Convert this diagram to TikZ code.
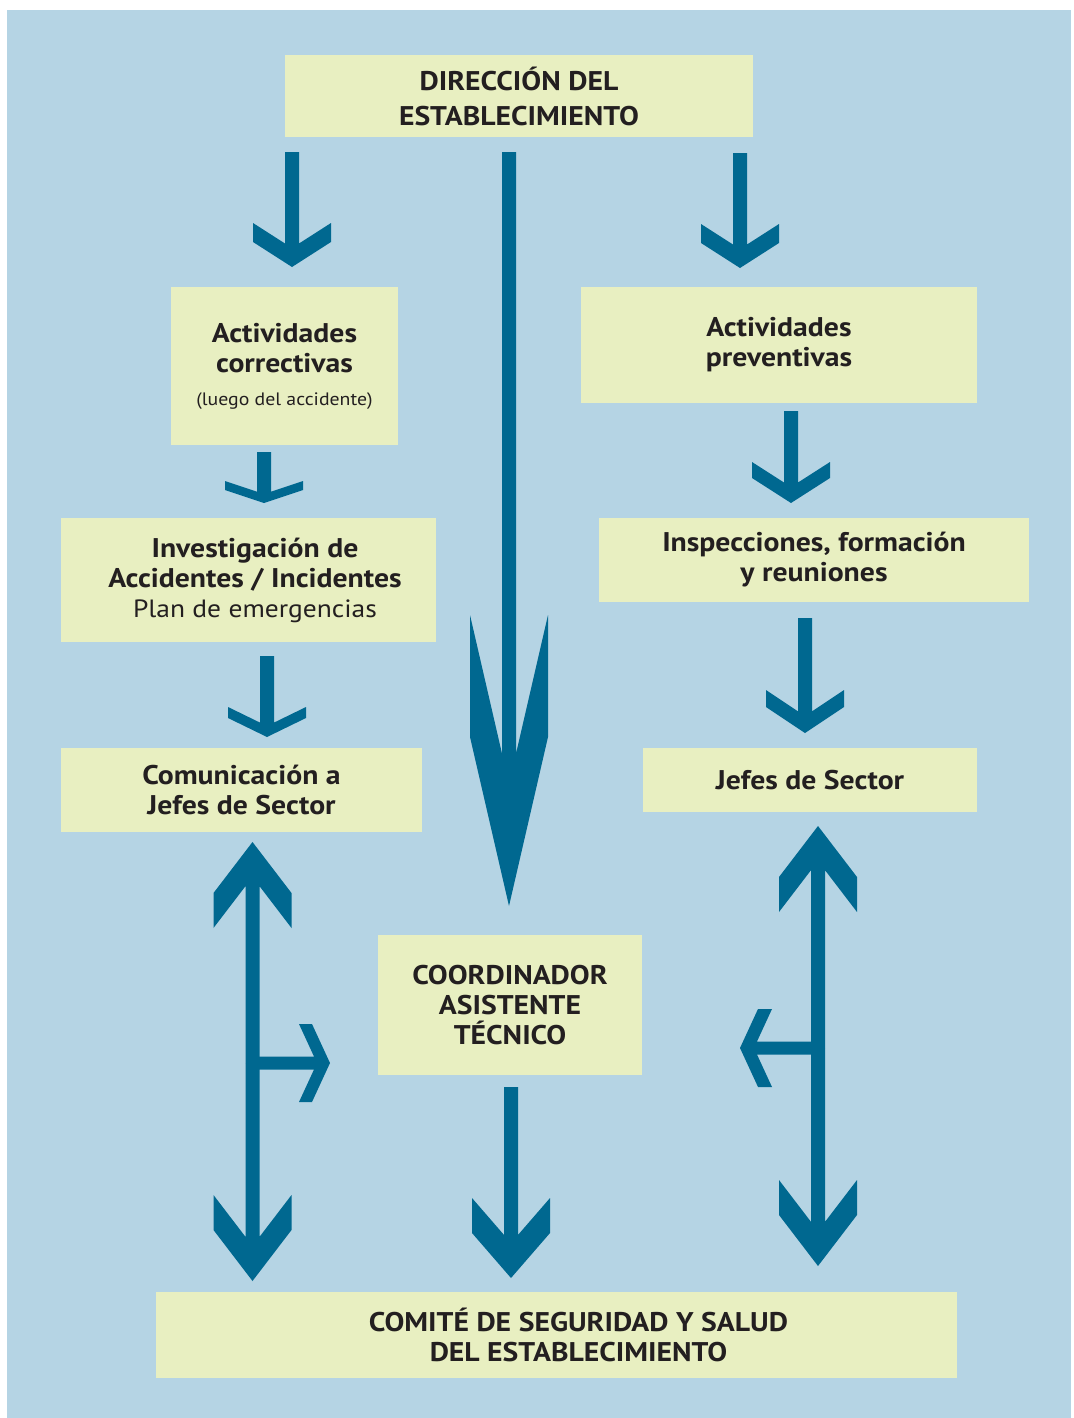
\documentclass[tikz,border=0pt]{standalone}
\usepackage{fontspec}
\setmainfont[FakeStretch=1.1]{PT Sans}
\usetikzlibrary{calc}
\definecolor{fondo}{HTML}{B5D4E4}
\definecolor{amarillo}{HTML}{E8EFC1}
\definecolor{azul}{HTML}{006890}
\definecolor{tinta}{HTML}{231F20}
% Flecha vertical : origen, punta, semi-ancho cuerpo, semi-ancho punta, borde, profundidad
\newcommand\flechaV[6]{%
\fill[flecha] let \p1=(#1), \p2=(#2), \n1={sign(\y2-\y1)}, \n2={#6+#5-(#4-#3)*#6/#4} in
({\x2-#3pt},{\y1}) -- ({\x2-#3pt},{\y2-(\n1)*(\n2)*1pt}) -- ({\x2-#4pt},{\y2-(\n1)*(#5+#6)*1pt})
-- ({\x2-#4pt},{\y2-(\n1)*#6*1pt}) -- (\x2,\y2) -- ({\x2+#4pt},{\y2-(\n1)*#6*1pt})
-- ({\x2+#4pt},{\y2-(\n1)*(#5+#6)*1pt}) -- ({\x2+#3pt},{\y2-(\n1)*(\n2)*1pt}) -- ({\x2+#3pt},{\y1}) -- cycle;}
% Flecha horizontal : mismos argumentos
\newcommand\flechaH[6]{%
\fill[flecha] let \p1=(#1), \p2=(#2), \n1={sign(\x2-\x1)}, \n2={#6+#5-(#4-#3)*#6/#4} in
({\x1},{\y2+#3pt}) -- ({\x2-(\n1)*(\n2)*1pt},{\y2+#3pt}) -- ({\x2-(\n1)*(#5+#6)*1pt},{\y2+#4pt})
-- ({\x2-(\n1)*#6*1pt},{\y2+#4pt}) -- (\x2,\y2) -- ({\x2-(\n1)*#6*1pt},{\y2-#4pt})
-- ({\x2-(\n1)*(#5+#6)*1pt},{\y2-#4pt}) -- ({\x2-(\n1)*(\n2)*1pt},{\y2-#3pt}) -- ({\x1},{\y2-#3pt}) -- cycle;}
\begin{document}
\begin{tikzpicture}[x=1pt,y=-1pt]
% Estilos
\tikzstyle{flecha}=[fill=azul]
\tikzstyle{bloque}=[fill=amarillo,inner sep=0pt,align=center,text=tinta,font=\fontsize{27}{30}\selectfont\bfseries]
\tikzstyle{titulo}=[bloque,font=\fontsize{27}{35}\selectfont\bfseries]
% Dimensiones
\def\Cuerpo{7}
\def\Punta{39}
% Fondo
\useasboundingbox (0,0) rectangle (1073,1418);
\fill[fondo] (7,10) rectangle (1071,1418);
% Cajas
\node[titulo,minimum width=468,minimum height=82] (dir) at (519,96) {DIRECCIÓN DEL\\ESTABLECIMIENTO};
\node[bloque,minimum width=227,minimum height=158] (corr) at (284.5,366) {Actividades\\correctivas\\[3pt]{\fontsize{18}{22}\selectfont\mdseries (luego del accidente)}};
\node[bloque,minimum width=396,minimum height=116] (prev) at (779,345) {Actividades\\preventivas};
\node[bloque,minimum width=375,minimum height=124] (inv) at (248.5,580) {\hspace*{13pt}Investigación de\\\hspace*{13pt}Accidentes / Incidentes\\\hspace*{13pt}{\fontsize{25}{30}\selectfont\mdseries Plan de emergencias}};
\node[bloque,minimum width=430,minimum height=84] (insp) at (814,560) {Inspecciones, formación\\y reuniones};
\node[bloque,minimum width=361,minimum height=84] (com) at (241.5,790) {Comunicación a\\Jefes de Sector};
\node[bloque,minimum width=334,minimum height=64] (jef) at (810,780) {Jefes de Sector};
\node[bloque,minimum width=264,minimum height=140] (coord) at (510,1005) {COORDINADOR\\ASISTENTE\\TÉCNICO};
\node[bloque,minimum width=801,minimum height=86] (comite) at (556.5,1335) {\hspace*{44pt}COMITÉ DE SEGURIDAD Y SALUD\\\hspace*{44pt}DEL ESTABLECIMIENTO};
% Extremos de las flechas
\coordinate (a1) at (292,152);   \coordinate (b1) at (292,267);
\coordinate (a2) at (509,152);   \coordinate (b2) at (509,906);
\coordinate (a3) at (740,153);   \coordinate (b3) at (740,268);
\coordinate (a4) at (264,452);   \coordinate (b4) at (264,503);
\coordinate (a5) at (791,411);   \coordinate (b5) at (791,503);
\coordinate (a6) at (267,656);   \coordinate (b6) at (267,737);
\coordinate (a7) at (805,618);   \coordinate (b7) at (805,733);
\coordinate (a8) at (511,1087);  \coordinate (b8) at (511,1278);
\coordinate (gm) at (252.5,1063); \coordinate (gs) at (252.5,842); \coordinate (gi) at (252.5,1281); \coordinate (gd) at (330,1063);
\coordinate (dm) at (818,1048);  \coordinate (ds) at (818,826);   \coordinate (di) at (818,1266);  \coordinate (dl) at (740,1048);
% Flechas
\flechaV{a1}{b1}{\Cuerpo}{\Punta}{19}{25}
\flechaV{a2}{b2}{\Cuerpo}{\Punta}{122}{169}
\flechaV{a3}{b3}{\Cuerpo}{\Punta}{19}{25}
\flechaV{a4}{b4}{\Cuerpo}{\Punta}{9}{13}
\flechaV{a5}{b5}{\Cuerpo}{\Punta}{16}{25}
\flechaV{a6}{b6}{\Cuerpo}{\Punta}{11}{19}
\flechaV{a7}{b7}{\Cuerpo}{\Punta}{17}{26}
\flechaV{a8}{b8}{\Cuerpo}{\Punta}{35}{45}
\flechaV{gm}{gs}{\Cuerpo}{\Punta}{35}{51}
\flechaV{gm}{gi}{\Cuerpo}{\Punta}{35}{51}
\flechaH{gm}{gd}{6.5}{\Punta}{13}{18}
\flechaV{dm}{ds}{\Cuerpo}{\Punta}{35}{51}
\flechaV{dm}{di}{\Cuerpo}{\Punta}{35}{51}
\flechaH{dm}{dl}{6.5}{\Punta}{14}{18}
\end{tikzpicture}
\end{document}
